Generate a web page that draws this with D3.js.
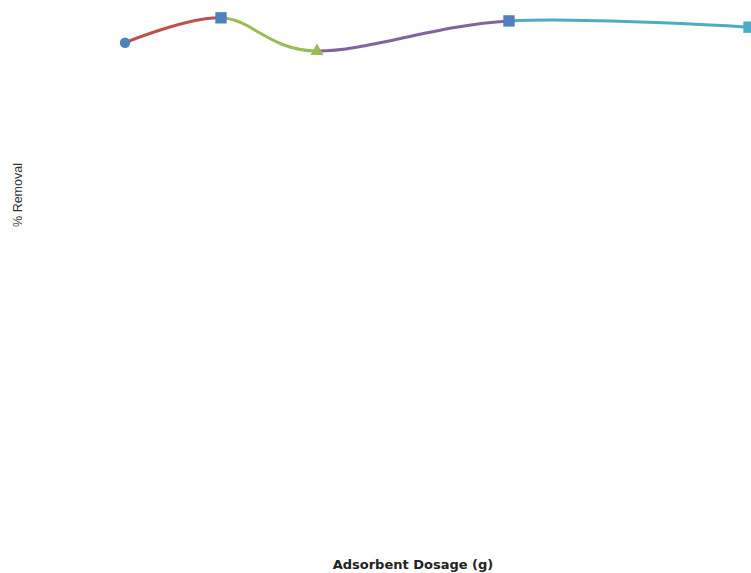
<!DOCTYPE html>
<html>
<head>
<meta charset="utf-8">
<script src="https://cdn.jsdelivr.net/npm/d3@7/dist/d3.min.js"></script>
<style>
  html, body { margin: 0; padding: 0; background: #fff; }
  svg { display: block; }
</style>
</head>
<body>
<script>
// Adsorbent dosage (g) and the measured % removal at each dosage
const dosage = [0.5, 1.0, 1.5, 2.5, 3.75];
const removal = [93.7, 98.5, 92.1, 97.9, 96.7];
// Colour of the curve leading out of each point, and each point's marker
const segmentColors = ["#C0504D", "#9BBB59", "#8064A2", "#4BACC6"];
const markerShapes = ["circle", "square", "triangle", "square", "square"];
const markerColors = ["#4F81BD", "#4F81BD", "#9BBB59", "#4F81BD", "#4BACC6"];
const xTitle = "Adsorbent Dosage (g)";
const yTitle = "% Removal";

const W = 751, H = 573;
const svg = d3.select("body").append("svg").attr("width", W).attr("height", H);

const x = d3.scaleLinear().domain([0, 1]).range([29, 221]);
const y = d3.scaleLinear().domain([0, 100]).range([530, 10]);

const pts = dosage.map((d, i) => [x(d), y(removal[i])]);

const line = d3.line().curve(d3.curveCardinal.tension(0));
const fullPath = line(pts);

const defs = svg.append("defs");
segmentColors.forEach((c, i) => {
  const x0 = pts[i][0], x1 = pts[i + 1][0];
  defs.append("clipPath").attr("id", "seg" + i)
    .append("rect").attr("x", x0).attr("y", 0).attr("width", x1 - x0).attr("height", H);
  svg.append("path")
    .attr("d", fullPath)
    .attr("fill", "none")
    .attr("stroke", c)
    .attr("stroke-width", 3)
    .attr("stroke-linecap", "round")
    .attr("clip-path", `url(#seg${i})`);
});

const symbolType = { circle: d3.symbolCircle, square: d3.symbolSquare, triangle: d3.symbolTriangle };
const symbolSize = { circle: 85, square: 130, triangle: 75 };
svg.selectAll("path.marker")
  .data(pts)
  .join("path")
  .attr("class", "marker")
  .attr("transform", d => `translate(${d[0]},${d[1]})`)
  .attr("d", (d, i) => d3.symbol().type(symbolType[markerShapes[i]]).size(symbolSize[markerShapes[i]])())
  .attr("fill", (d, i) => markerColors[i]);

svg.append("text")
  .attr("transform", "translate(22,195) rotate(-90)")
  .attr("text-anchor", "middle")
  .attr("font-family", "Liberation Sans, Arial, sans-serif")
  .attr("font-size", 12.5)
  .attr("fill", "#333")
  .text(yTitle);

svg.append("text")
  .attr("x", 413).attr("y", 569)
  .attr("text-anchor", "middle")
  .attr("font-family", "DejaVu Sans, sans-serif")
  .attr("font-weight", "bold")
  .attr("font-size", 13)
  .attr("fill", "#222")
  .text(xTitle);
</script>
</body>
</html>
